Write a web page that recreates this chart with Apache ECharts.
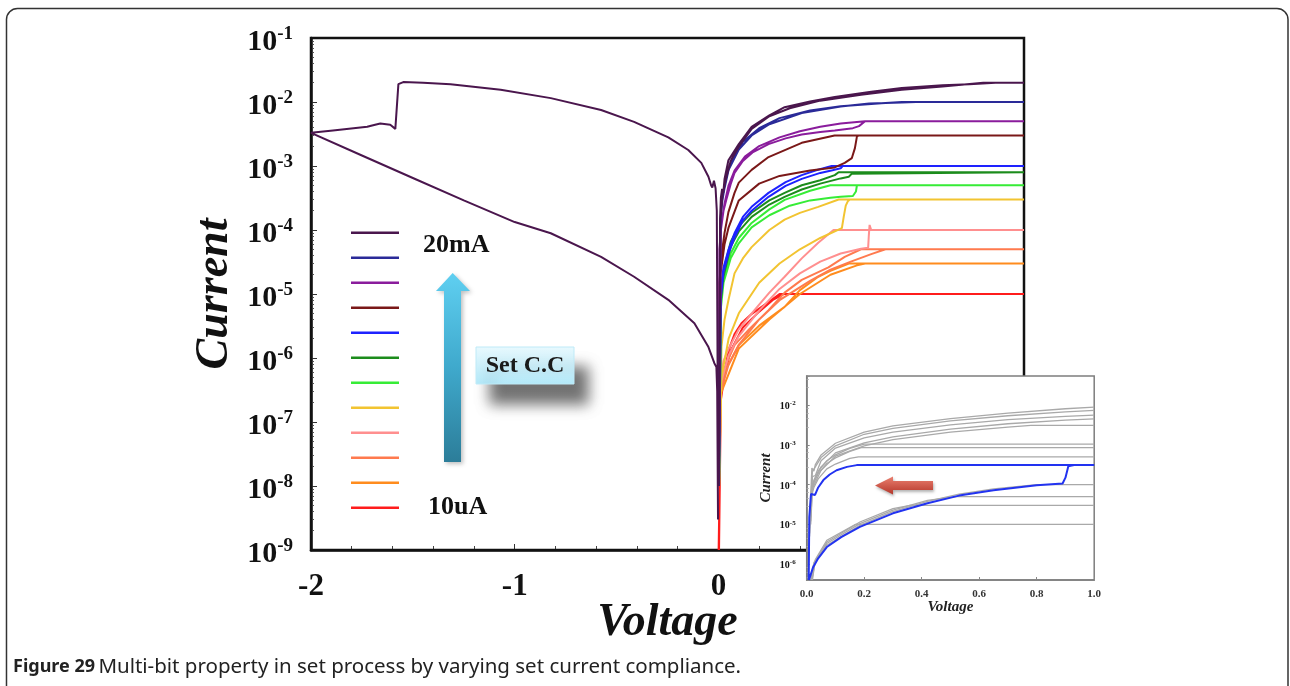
<!DOCTYPE html>
<html>
<head>
<meta charset="utf-8">
<title>Multi-bit set process</title>
<script src="https://cdn.jsdelivr.net/npm/echarts@6/dist/echarts.min.js"></script>
<style>
  html, body { margin: 0; padding: 0; background: #ffffff; }
  #chart { width: 1290px; height: 686px; }
</style>
</head>
<body>
<div id="chart"></div>
<script>
// ---------- data: voltage (V) / current (A) pairs ----------
const complianceLabels = ['20mA', '10mA', '5mA', '3mA', '1mA', '0.8mA', '0.5mA', '0.3mA', '0.1mA', '50uA', '30uA', '10uA'];

// negative sweep of the 20 mA cell (reset branch and return)
const resetSweep20mA = [
  [-0.002, 3e-8], [-0.008, 2.0e-4], [-0.014, 4.5e-4], [-0.022, 5.9e-4], [-0.030, 4.6e-4], [-0.036, 5.0e-4],
  [-0.049, 6.8e-4], [-0.084, 1.12e-3], [-0.148, 1.78e-3], [-0.246, 2.8e-3], [-0.414, 4.9e-3], [-0.576, 7.5e-3],
  [-0.823, 1.15e-2], [-1.069, 1.55e-2], [-1.315, 1.9e-2], [-1.45, 2.0e-2], [-1.547, 2.05e-2], [-1.571, 1.9e-2],
  [-1.586, 3.8e-3], [-1.611, 4.4e-3], [-1.660, 4.6e-3], [-1.70, 4.3e-3], [-1.724, 4.1e-3], [-1.892, 3.6e-3], [-2.0, 3.3e-3]
];
const resetReturn20mA = [
  [-2.0, 3.3e-3], [-1.75, 1.46e-3], [-1.5, 6.5e-4], [-1.25, 2.9e-4], [-1.0, 1.33e-4], [-0.823, 8.9e-5],
  [-0.576, 3.8e-5], [-0.414, 1.86e-5], [-0.246, 8.1e-6], [-0.118, 3.5e-6], [-0.049, 1.48e-6], [-0.02, 8.3e-7],
  [-0.01, 7.2e-7], [-0.006, 3e-7], [-0.002, 3e-9]
];

// positive set sweeps (up to the compliance level, then held to 1.5 V)
const set20mA = [[0.002, 2e-8], [0.008, 1.5e-4], [0.012, 3.2e-4], [0.018, 4.4e-4], [0.024, 3.8e-4], [0.03, 6.3e-4], [0.049, 1.23e-3], [0.1, 2.2e-3], [0.163, 4.1e-3], [0.25, 6.2e-3], [0.325, 8.3e-3], [0.45, 1.02e-2], [0.571, 1.2e-2], [0.75, 1.45e-2], [0.9, 1.66e-2], [1.1, 1.82e-2], [1.232, 1.9e-2], [1.36, 2.0e-2], [1.5, 2.0e-2]];
const set10mA = [[0.002, 1e-8], [0.01, 1.5e-4], [0.02, 3e-4], [0.03, 4.5e-4], [0.05, 8.7e-4], [0.1, 1.8e-3], [0.163, 3.0e-3], [0.25, 4.5e-3], [0.409, 6.7e-3], [0.6, 8.5e-3], [0.74, 9.5e-3], [0.9, 9.8e-3], [0.97, 1.0e-2], [1.5, 1.0e-2]];
const set5mA = [[0.002, 1e-8], [0.012, 1e-4], [0.025, 2e-4], [0.039, 3e-4], [0.06, 5.2e-4], [0.079, 7.8e-4], [0.12, 1.2e-3], [0.17, 1.65e-3], [0.246, 2.2e-3], [0.33, 2.7e-3], [0.409, 3.1e-3], [0.5, 3.4e-3], [0.571, 3.6e-3], [0.66, 3.9e-3], [0.69, 4.2e-3], [0.72, 5e-3], [1.5, 5e-3]];
const set3mA = [[0.002, 1e-8], [0.01, 2e-5], [0.03, 6e-5], [0.05, 1.1e-4], [0.1, 2.9e-4], [0.2, 5.3e-4], [0.3, 7e-4], [0.45, 8.5e-4], [0.571, 9.5e-4], [0.62, 1.12e-3], [0.655, 1.33e-3], [0.67, 1.9e-3], [0.68, 2.9e-3], [0.69, 3e-3], [1.5, 3e-3]];
const set1mA = [[0.003, 1e-8], [0.012, 9e-6], [0.025, 2.2e-5], [0.05, 4.3e-5], [0.079, 7.6e-5], [0.12, 1.4e-4], [0.163, 2e-4], [0.246, 3.3e-4], [0.33, 4.9e-4], [0.409, 6.3e-4], [0.5, 7.8e-4], [0.56, 8.6e-4], [0.6, 9.2e-4], [0.61, 1e-3], [1.5, 1e-3]];
const set08mA = [[0.003, 1e-8], [0.012, 8e-6], [0.025, 1.9e-5], [0.06, 5.5e-5], [0.1, 9.5e-5], [0.163, 1.6e-4], [0.25, 2.5e-4], [0.325, 3.3e-4], [0.409, 4.3e-4], [0.5, 5.3e-4], [0.6, 6.4e-4], [0.64, 6.8e-4], [0.655, 7.6e-4], [0.66, 8e-4], [1.5, 8e-4]];
const set05mA = [[0.003, 1e-8], [0.012, 6e-6], [0.025, 1.5e-5], [0.06, 3.6e-5], [0.1, 6.2e-5], [0.163, 1.1e-4], [0.25, 1.7e-4], [0.35, 2.4e-4], [0.45, 2.9e-4], [0.55, 3.2e-4], [0.6, 3.3e-4], [0.66, 3.4e-4], [0.675, 4e-4], [0.68, 5e-4], [1.5, 5e-4]];
const set03mA = [[0.003, 1e-8], [0.015, 5e-7], [0.05, 2e-6], [0.1, 5e-6], [0.2, 1.5e-5], [0.3, 3e-5], [0.4, 5e-5], [0.5, 7.5e-5], [0.606, 1.07e-4], [0.615, 1.6e-4], [0.625, 2.4e-4], [0.635, 2.8e-4], [0.645, 3e-4], [1.5, 3e-4]];
const set01mA = [[0.003, 1e-8], [0.012, 4e-7], [0.05, 1.1e-6], [0.1, 2.2e-6], [0.2, 5.5e-6], [0.3, 1.2e-5], [0.4, 2.1e-5], [0.5, 3.2e-5], [0.6, 4.3e-5], [0.7, 5.1e-5], [0.735, 5.3e-5], [0.738, 8e-5], [0.742, 1.2e-4], [0.75, 1e-4], [1.5, 1e-4]];
const set50uA = [[0.003, 1e-8], [0.012, 3e-7], [0.05, 8e-7], [0.1, 1.6e-6], [0.2, 4e-6], [0.3, 8e-6], [0.45, 1.6e-5], [0.55, 2.4e-5], [0.65, 3.2e-5], [0.75, 4.2e-5], [0.82, 5e-5], [1.5, 5e-5]];
const set30uA = [[0.003, 1e-8], [0.012, 2.8e-7], [0.1, 1.4e-6], [0.25, 4e-6], [0.4, 1e-5], [0.55, 2e-5], [0.68, 2.8e-5], [0.72, 3e-5], [1.5, 3e-5]];
const set10uA = [[0.001, 1e-9], [0.012, 2.2e-7], [0.03, 5.5e-7], [0.06, 1.3e-6], [0.12, 3e-6], [0.2, 5.3e-6], [0.27, 8.2e-6], [0.32, 1e-5], [1.5, 1e-5]];

// return sweeps (1.5 V back to 0 V)
const ret20mA = [[1.5, 2.0e-2], [1.3, 2.0e-2], [1.1, 1.75e-2], [0.9, 1.55e-2], [0.7, 1.3e-2], [0.5, 1.05e-2], [0.35, 8.0e-3], [0.25, 6.0e-3], [0.163, 3.8e-3], [0.1, 2.0e-3], [0.06, 1.2e-3], [0.035, 6e-4], [0.02, 3.5e-4], [0.01, 1.5e-4], [0.002, 1e-8]];
const ret10mA = [[1.5, 1e-2], [0.9, 1e-2], [0.8, 9.6e-3], [0.6, 8.6e-3], [0.45, 7.4e-3], [0.3, 5.6e-3], [0.2, 3.9e-3], [0.12, 2.4e-3], [0.07, 1.3e-3], [0.04, 7e-4], [0.02, 3.4e-4], [0.01, 1.4e-4], [0.002, 1e-8]];
const ret5mA = [[1.5, 5e-3], [0.72, 5e-3], [0.6, 4.6e-3], [0.5, 4.1e-3], [0.4, 3.5e-3], [0.3, 2.8e-3], [0.2, 2.05e-3], [0.13, 1.4e-3], [0.079, 8.5e-4], [0.05, 5e-4], [0.03, 2.6e-4], [0.015, 1.3e-4], [0.005, 5e-5], [0.002, 1e-8]];
const ret3mA = [[1.5, 3e-3], [0.57, 3e-3], [0.409, 2.3e-3], [0.246, 1.38e-3], [0.163, 8.7e-4], [0.1, 5.5e-4], [0.079, 3.8e-4], [0.049, 1.9e-4], [0.03, 9e-5], [0.015, 4e-5], [0.005, 1.5e-5], [0.002, 1e-8]];
const ret1mA = [[1.5, 1e-3], [0.556, 1e-3], [0.48, 8.6e-4], [0.409, 7.2e-4], [0.33, 5.6e-4], [0.246, 3.8e-4], [0.163, 2.3e-4], [0.12, 1.6e-4], [0.079, 8.9e-5], [0.05, 5e-5], [0.025, 2.6e-5], [0.012, 1.2e-5], [0.003, 1e-8]];
const ret08mA = [[1.5, 8e-4], [0.59, 8e-4], [0.571, 7.2e-4], [0.5, 6e-4], [0.409, 5e-4], [0.325, 3.8e-4], [0.25, 2.9e-4], [0.163, 1.86e-4], [0.1, 1.15e-4], [0.06, 6.5e-5], [0.025, 2.3e-5], [0.012, 1e-5], [0.003, 1e-8]];
const ret05mA = [[1.5, 5e-4], [0.55, 5e-4], [0.45, 4.1e-4], [0.325, 2.95e-4], [0.25, 2.1e-4], [0.163, 1.29e-4], [0.1, 7.5e-5], [0.06, 4.3e-5], [0.025, 1.86e-5], [0.012, 8e-6], [0.003, 1e-8]];
const ret03mA = [[1.5, 3e-4], [0.59, 3e-4], [0.49, 2.3e-4], [0.4, 1.85e-4], [0.325, 1.45e-4], [0.25, 1e-4], [0.163, 5.4e-5], [0.12, 3.6e-5], [0.079, 2.1e-5], [0.049, 8e-6], [0.03, 4e-6], [0.015, 1.5e-6], [0.003, 1e-8]];
const ret01mA = [[1.5, 1e-4], [0.565, 1e-4], [0.49, 6.3e-5], [0.409, 3.6e-5], [0.325, 1.86e-5], [0.25, 1.05e-5], [0.177, 5.6e-6], [0.1, 2.8e-6], [0.05, 1.4e-6], [0.025, 9e-7], [0.012, 5e-7], [0.003, 1e-8]];
const ret50uA = [[1.5, 5e-5], [0.7, 5e-5], [0.62, 3.8e-5], [0.54, 2.6e-5], [0.409, 1.66e-5], [0.325, 1.05e-5], [0.246, 5.6e-6], [0.15, 2.8e-6], [0.08, 1.6e-6], [0.03, 7e-7], [0.012, 3.5e-7], [0.003, 1e-8]];
const ret30uA = [[1.5, 3e-5], [0.64, 3e-5], [0.55, 2.3e-5], [0.49, 1.86e-5], [0.4, 1.15e-5], [0.325, 6.3e-6], [0.2, 3.2e-6], [0.1, 1.6e-6], [0.03, 6e-7], [0.012, 3e-7], [0.003, 1e-8]];
const ret10uA = [[1.5, 1e-5], [0.30, 1e-5], [0.246, 7.5e-6], [0.212, 6.3e-6], [0.16, 4.8e-6], [0.113, 3.5e-6], [0.08, 2.4e-6], [0.049, 1.3e-6], [0.025, 4.6e-7], [0.012, 2.5e-7], [0.003, 1e-9]];

const setSweeps = [set20mA, set10mA, set5mA, set3mA, set1mA, set08mA, set05mA, set03mA, set01mA, set50uA, set30uA, set10uA];
const returnSweeps = [ret20mA, ret10mA, ret5mA, ret3mA, ret1mA, ret08mA, ret05mA, ret03mA, ret01mA, ret50uA, ret30uA, ret10uA];

// inset: one highlighted cycle (0.3 mA) over the grey family, 0..1 V
const insetBlueSet = [[0.008, 4e-7], [0.022, 8.3e-7], [0.04, 1.4e-6], [0.07, 2.7e-6], [0.12, 4.8e-6], [0.185, 8.7e-6], [0.3, 1.9e-5], [0.42, 3.4e-5], [0.53, 5.3e-5], [0.65, 7.2e-5], [0.8, 9.6e-5], [0.89, 1.07e-4], [0.9, 1.5e-4], [0.91, 2.9e-4], [0.93, 3.1e-4], [1.0, 3.1e-4]];
const insetBlueReturn = [[1.0, 3.1e-4], [0.174, 3.1e-4], [0.14, 2.8e-4], [0.104, 2.3e-4], [0.08, 1.8e-4], [0.058, 1.3e-4], [0.04, 8.5e-5], [0.029, 5.5e-5], [0.015, 5.8e-5], [0.011, 6.2e-5], [0.009, 1.5e-5], [0.007, 4e-7]];
const insetGreyCurves = [
  [[0.012, 2.5e-5], [0.018, 2.6e-4], [0.025, 2.2e-4], [0.03, 3.2e-4], [0.05, 5.6e-4], [0.1, 1.1e-3], [0.2, 2.1e-3], [0.3, 3.0e-3], [0.5, 4.6e-3], [0.7, 6.3e-3], [0.9, 8.1e-3], [1.0, 8.9e-3]],
  [[0.012, 2e-5], [0.02, 2.2e-4], [0.03, 2.8e-4], [0.05, 4.8e-4], [0.1, 9.5e-4], [0.2, 1.85e-3], [0.3, 2.6e-3], [0.5, 4.0e-3], [0.7, 5.4e-3], [0.9, 6.8e-3], [1.0, 7.4e-3]],
  [[0.014, 1.5e-5], [0.02, 1.6e-4], [0.03, 1.7e-4], [0.05, 4e-4], [0.1, 8.3e-4], [0.2, 1.5e-3], [0.3, 2.1e-3], [0.5, 3.2e-3], [0.7, 4.3e-3], [0.9, 5.2e-3], [1.0, 5.6e-3]],
  [[0.014, 1.2e-5], [0.02, 1e-4], [0.05, 2.8e-4], [0.1, 6.3e-4], [0.2, 1.12e-3], [0.3, 1.6e-3], [0.5, 2.5e-3], [0.7, 3.4e-3], [0.9, 4.2e-3], [1.0, 4.5e-3]],
  [[0.014, 1e-5], [0.02, 8e-5], [0.05, 2.3e-4], [0.1, 5.2e-4], [0.2, 9.5e-4], [0.3, 1.35e-3], [0.5, 2.1e-3], [0.7, 2.8e-3], [0.78, 3.1e-3], [1.0, 3.1e-3]],
  [[0.01, 8e-6], [0.015, 6e-5], [0.025, 1.3e-4], [0.04, 2.2e-4], [0.07, 4e-4], [0.1, 5.6e-4], [0.15, 8.2e-4], [0.2, 1.05e-3], [1.0, 1.05e-3]],
  [[0.01, 6e-6], [0.015, 5e-5], [0.025, 1.1e-4], [0.04, 1.9e-4], [0.07, 3.4e-4], [0.1, 4.7e-4], [0.15, 6.9e-4], [0.19, 8.5e-4], [1.0, 8.5e-4]],
  [[0.01, 5e-6], [0.015, 4.5e-5], [0.025, 8.5e-5], [0.04, 1.4e-4], [0.07, 2.5e-4], [0.1, 3.3e-4], [0.15, 4.6e-4], [0.18, 5e-4], [1.0, 5e-4]],
  [[0.015, 4e-7], [0.022, 9e-7], [0.07, 3e-6], [0.185, 9.5e-6], [0.3, 2.1e-5], [0.42, 3.8e-5], [0.53, 5.8e-5], [0.65, 7.8e-5], [0.8, 1e-4], [1.0, 1e-4]],
  [[0.015, 4e-7], [0.025, 1.1e-6], [0.07, 3.3e-6], [0.185, 1.05e-5], [0.3, 2.3e-5], [0.42, 4e-5], [0.52, 5e-5], [1.0, 5e-5]],
  [[0.018, 4e-7], [0.03, 1.2e-6], [0.07, 3.6e-6], [0.185, 1.15e-5], [0.3, 2.5e-5], [0.36, 3e-5], [1.0, 3e-5]],
  [[0.02, 4e-7], [0.03, 1.3e-6], [0.07, 4e-6], [0.17, 1e-5], [1.0, 1e-5]]
];

// ---------- styling ----------
const SERIF = '"Liberation Serif", "Times New Roman", serif';
const SANS = '"Noto Sans", "Open Sans", sans-serif';
const complianceColors = ['#4a164d', '#2a2a98', '#8a1c9c', '#7a1818', '#1e22ff', '#1c8c1c', '#36ec36', '#f2c431', '#ff8f8f', '#ff7a4e', '#ff8c1e', '#ff1c1c'];

// "10" with the exponent as a raised superscript
const supLabel = (size, supSize, lift) => ({
  formatter: v => '{b|10}{s|' + Math.round(Math.log10(v)) + '}',
  rich: {
    b: { fontFamily: SERIF, fontWeight: 'bold', fontSize: size, color: '#111', padding: [lift, 0, 0, 0] },
    s: { fontFamily: SERIF, fontWeight: 'bold', fontSize: supSize, color: '#111', padding: [0, 0, lift, 0] }
  }
});

const series = [];
// draw from the lowest compliance upward so the highest curves sit on top
for (let i = complianceLabels.length - 1; i >= 0; i--) {
  series.push({
    name: complianceLabels[i], type: 'line', xAxisIndex: 0, yAxisIndex: 0,
    data: setSweeps[i].concat(returnSweeps[i]),
    showSymbol: false, symbol: 'none', z: 2,
    lineStyle: { color: complianceColors[i], width: 2 }
  });
}
series.push({
  name: complianceLabels[0], type: 'line', xAxisIndex: 0, yAxisIndex: 0,
  data: resetSweep20mA.concat(resetReturn20mA),
  showSymbol: false, symbol: 'none', z: 2,
  lineStyle: { color: complianceColors[0], width: 2 }
});
insetGreyCurves.forEach(c => series.push({
  type: 'line', xAxisIndex: 1, yAxisIndex: 1, data: c, showSymbol: false, symbol: 'none', z: 7, silent: true,
  lineStyle: { color: '#a9a9a9', width: 1.3 }
}));
series.push({
  type: 'line', xAxisIndex: 1, yAxisIndex: 1, data: insetBlueSet.concat(insetBlueReturn),
  showSymbol: false, symbol: 'none', z: 8, lineStyle: { color: '#2233f0', width: 2 }
});

// frame, legend keys and annotation drawings
const graphics = [
  { type: 'rect', z: 0, shape: { x: 6.5, y: 8.5, width: 1281.5, height: 720, r: 11 },
    style: { fill: 'none', stroke: '#333', lineWidth: 1.5 } }
];
complianceColors.forEach((c, i) => graphics.push({
  type: 'line', z: 20, shape: { x1: 351, y1: 232.7 + 25 * i, x2: 399, y2: 232.7 + 25 * i },
  style: { stroke: c, lineWidth: 2.6 }
}));
graphics.push(
  { type: 'text', z: 20, x: 423, y: 245, style: { text: complianceLabels[0], fontFamily: SERIF, fontWeight: 'bold', fontSize: 26, fill: '#111', verticalAlign: 'middle' } },
  { type: 'text', z: 20, x: 428, y: 507, style: { text: complianceLabels[complianceLabels.length - 1], fontFamily: SERIF, fontWeight: 'bold', fontSize: 26, fill: '#111', verticalAlign: 'middle' } },
  { type: 'polygon', z: 20,
    shape: { points: [[452.7, 273], [470, 291], [461, 291], [461, 462], [444, 462], [444, 291], [436, 291]] },
    style: { fill: new echarts.graphic.LinearGradient(0, 0, 0, 1, [
      { offset: 0, color: '#5fcff1' }, { offset: 0.5, color: '#3fa9cc' }, { offset: 1, color: '#2c7d99' }]),
      shadowBlur: 4, shadowColor: 'rgba(0,0,0,0.25)', shadowOffsetX: 2, shadowOffsetY: 2 } },
  { type: 'rect', z: 20, shape: { x: 476, y: 347, width: 98, height: 37 },
    style: { fill: new echarts.graphic.LinearGradient(0, 0, 0, 1, [
      { offset: 0, color: '#e8f9fe' }, { offset: 1, color: '#b4eafa' }]),
      stroke: '#bfeaf7', lineWidth: 1,
      shadowBlur: 14, shadowColor: 'rgba(0,0,0,0.55)', shadowOffsetX: 14, shadowOffsetY: 20 } },
  { type: 'text', z: 21, x: 525, y: 366, style: { text: 'Set C.C', fontFamily: SERIF, fontWeight: 'bold', fontSize: 24, fill: '#1a1a1a', align: 'center', verticalAlign: 'middle' } },
  { type: 'polygon', z: 30,
    shape: { points: [[875, 485.5], [893, 476.5], [893, 481], [933, 481], [933, 490], [893, 490], [893, 494.5]] },
    style: { fill: new echarts.graphic.LinearGradient(0, 0, 0, 1, [
      { offset: 0, color: '#ea8070' }, { offset: 1, color: '#b5372b' }]),
      shadowBlur: 3, shadowColor: 'rgba(0,0,0,0.3)', shadowOffsetX: 1, shadowOffsetY: 2 } },
  { type: 'text', z: 20, x: 13, y: 667,
    style: { text: '{b|Figure 29} {r|Multi-bit property in set process by varying set current compliance.}', verticalAlign: 'middle',
      rich: { b: { fontFamily: SANS, fontWeight: 'bold', fontSize: 18, fill: '#222' },
              r: { fontFamily: SANS, fontSize: 20.5, fill: '#222' } } } }
);

const chart = echarts.init(document.getElementById('chart'), null, { renderer: 'canvas' });
chart.setOption({
  animation: false,
  backgroundColor: '#ffffff',
  grid: [
    { left: 311, top: 38, width: 713, height: 512, show: true, borderColor: '#111', borderWidth: 2.5, containLabel: false, outerBoundsMode: 'none', z: 2 },
    { left: 806.7, top: 376, width: 287.5, height: 204, show: true, backgroundColor: '#ffffff', borderColor: '#7d7d7d', borderWidth: 1.5, containLabel: false, outerBoundsMode: 'none', z: 5 }
  ],
  xAxis: [
    { type: 'value', gridIndex: 0, min: -2, max: 1.5, interval: 1,
      name: 'Voltage', nameLocation: 'middle', nameGap: 50, nameMoveOverlap: false,
      nameTextStyle: { fontFamily: SERIF, fontWeight: 'bold', fontStyle: 'italic', fontSize: 46, color: '#111' },
      axisLine: { show: true, onZero: false, lineStyle: { color: '#111', width: 2.5 } },
      axisTick: { show: true, inside: true, length: 6, lineStyle: { color: '#333', width: 1 } },
      minorTick: { show: true, splitNumber: 5, length: 4, lineStyle: { color: '#444', width: 1 } },
      splitLine: { show: false },
      axisLabel: { margin: 21, fontFamily: SERIF, fontWeight: 'bold', fontSize: 31, color: '#111', formatter: v => (v <= 0 ? String(v) : '') } },
    { type: 'value', gridIndex: 1, min: 0, max: 1, interval: 0.2, z: 6,
      name: 'Voltage', nameLocation: 'middle', nameGap: 20, nameMoveOverlap: false,
      nameTextStyle: { fontFamily: SERIF, fontWeight: 'bold', fontStyle: 'italic', fontSize: 15, color: '#222' },
      axisLine: { show: true, onZero: false, lineStyle: { color: '#7d7d7d', width: 1.5 } },
      axisTick: { show: true, inside: true, length: 3, lineStyle: { color: '#888' } },
      splitLine: { show: false },
      axisLabel: { margin: 9, fontFamily: SERIF, fontWeight: 'bold', fontSize: 11, color: '#333', formatter: v => v.toFixed(1) } }
  ],
  yAxis: [
    Object.assign({ type: 'log', logBase: 10, gridIndex: 0, min: 1e-9, max: 1e-1, splitNumber: 8,
      name: 'Current', nameLocation: 'middle', nameGap: 73, nameRotate: 90, nameMoveOverlap: false,
      nameTextStyle: { fontFamily: SERIF, fontWeight: 'bold', fontStyle: 'italic', fontSize: 46, color: '#111' },
      axisLine: { show: true, onZero: false, lineStyle: { color: '#111', width: 2.5 } },
      axisTick: { show: true, inside: true, length: 6, lineStyle: { color: '#333' } },
      minorTick: { show: true, splitNumber: 9, length: 3, lineStyle: { color: '#555' } },
      splitLine: { show: false } },
      { axisLabel: Object.assign({ margin: 18 }, supLabel(30, 19, 8)) }),
    Object.assign({ type: 'log', logBase: 10, gridIndex: 1, min: 4e-7, max: 5.4e-2, splitNumber: 5, z: 6,
      name: 'Current', nameLocation: 'middle', nameGap: 33, nameRotate: 90, nameMoveOverlap: false,
      nameTextStyle: { fontFamily: SERIF, fontWeight: 'bold', fontStyle: 'italic', fontSize: 15, color: '#222' },
      axisLine: { show: true, onZero: false, lineStyle: { color: '#7d7d7d', width: 1.5 } },
      axisTick: { show: true, inside: true, length: 3, lineStyle: { color: '#888' } },
      minorTick: { show: true, splitNumber: 5, length: 2, lineStyle: { color: '#aaa' } },
      splitLine: { show: false } },
      { axisLabel: Object.assign({ margin: 11, showMinLabel: false, showMaxLabel: false }, supLabel(10, 7, 3)) })
  ],
  series: series,
  graphic: { elements: graphics }
});
</script>
</body>
</html>
